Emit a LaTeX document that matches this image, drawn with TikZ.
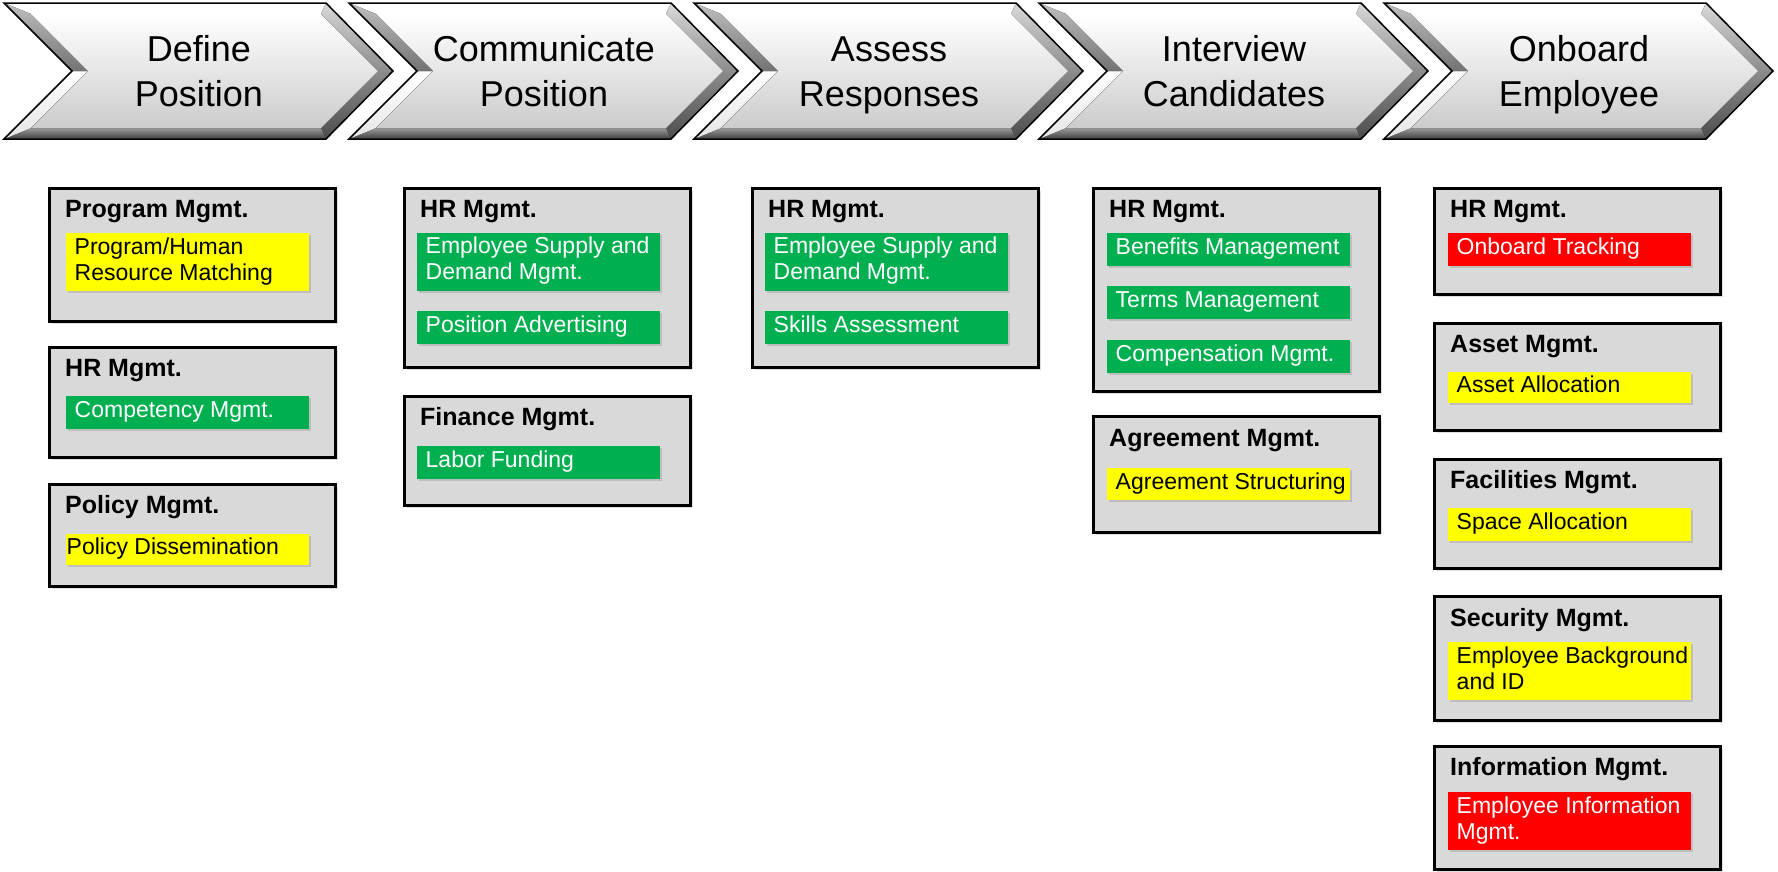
\documentclass[tikz,border=0pt]{standalone}
\usepackage{fontspec}
\setmainfont{Liberation Sans}
\usetikzlibrary{positioning,shadows}

\definecolor{panelgray}{HTML}{D9D9D9}
\definecolor{stgreen}{HTML}{00B050}
\definecolor{styellow}{HTML}{FFFF00}
\definecolor{stred}{HTML}{FF0000}

\begin{document}
\begin{tikzpicture}[
        x=1pt, y=-1pt,
        stage/.style={align=center, inner sep=0pt, font=\fontsize{36}{45}\selectfont,
            execute at begin node=\strut, execute at end node=\strut},
        panel/.style={rectangle, draw=black, line width=2.5pt, fill=panelgray, anchor=north west,
            minimum width=286pt, drop shadow={shadow xshift=3pt, shadow yshift=-3pt, opacity=.25}},
        head/.style={anchor=base west, inner sep=0pt, font=\fontsize{25}{30}\selectfont\bfseries},
        item/.style={rectangle, anchor=north west, text width=226pt, inner xsep=8.5pt, inner ysep=0pt,
            minimum height=33pt, align=flush left, font=\fontsize{23}{26}\selectfont,
            execute at begin node=\strut, execute at end node=\strut,
            drop shadow={shadow xshift=2pt, shadow yshift=-2pt, opacity=.3}},
        greenbox/.style={item, fill=stgreen, text=white},
        yellowbox/.style={item, fill=styellow, text=black},
        redbox/.style={item, fill=stred, text=white},
        twoline/.style={minimum height=58pt}
    ]
    \useasboundingbox (0,0) rectangle (1778,871);

    % Stages (bevelled chevrons)
    \foreach \i/\txt in {0/{Define\\Position}, 1/{Communicate\\Position}, 2/{Assess\\Responses},
                         3/{Interview\\Candidates}, 4/{Onboard\\Employee}} {
        \pgfmathsetmacro{\cx}{4+345*\i}
        \coordinate (o1) at (\cx,3);      \coordinate (o2) at (\cx+322,3);
        \coordinate (o3) at (\cx+389,71); \coordinate (o4) at (\cx+322,139);
        \coordinate (o5) at (\cx,139);    \coordinate (o6) at (\cx+68,71);
        \coordinate (n1) at (\cx+27,14);  \coordinate (n2) at (\cx+317,14);
        \coordinate (n3) at (\cx+374,71); \coordinate (n4) at (\cx+317,128);
        \coordinate (n5) at (\cx+27,128); \coordinate (n6) at (\cx+84,71);
        \fill[white] (o1) -- (o2) -- (n2) -- (n1) -- cycle;
        \fill[top color=black!15, bottom color=black!45] (o2) -- (o3) -- (n3) -- (n2) -- cycle;
        \fill[top color=black!45, bottom color=black!70] (o3) -- (o4) -- (n4) -- (n3) -- cycle;
        \fill[top color=black!40, bottom color=black!75] (o4) -- (o5) -- (n5) -- (n4) -- cycle;
        \fill[top color=white, bottom color=black!10] (o6) -- (o5) -- (n5) -- (n6) -- cycle;
        \fill[top color=black!25, bottom color=black!55] (o1) -- (o6) -- (n6) -- (n1) -- cycle;
        \fill[top color=white, bottom color=black!20] (n1) -- (n2) -- (n3) -- (n4) -- (n5) -- (n6) -- cycle;
        \draw[line width=1.5pt, line join=miter] (o1) -- (o2) -- (o3) -- (o4) -- (o5) -- (o6) -- cycle;
        \node[stage] (stage\i) at (\cx+195,78) {\txt};
    }

    % Define Position
    \node[panel, minimum height=133pt] (dpprog) at (48,187) {};
    \node[head] (dpproghead) at ([shift={(17,30)}]dpprog.north west) {Program Mgmt.};
    \node[yellowbox, twoline] (dpmatch) at ([shift={(18,46)}]dpprog.north west) {Program/Human\\Resource Matching};

    \node[panel, minimum height=110pt] (dphr) at (48,346) {};
    \node[head] (dphrhead) at ([shift={(17,30)}]dphr.north west) {HR Mgmt.};
    \node[greenbox] (dpcomp) at ([shift={(18,50)}]dphr.north west) {Competency Mgmt.};

    \node[panel, minimum height=102pt] (dppol) at (48,483) {};
    \node[head] (dppolhead) at ([shift={(17,30)}]dppol.north west) {Policy Mgmt.};
    \node[yellowbox, text width=242pt, inner xsep=.5pt, minimum height=31pt] (dpdiss)
        at ([shift={(18,51)}]dppol.north west) {Policy Dissemination};

    % Communicate Position
    \node[panel, minimum height=179pt] (cphr) at (403,187) {};
    \node[head] (cphrhead) at ([shift={(17,30)}]cphr.north west) {HR Mgmt.};
    \node[greenbox, twoline] (cpsupply) at ([shift={(14,45.5)}]cphr.north west) {Employee Supply and\\Demand Mgmt.};
    \node[greenbox, below=20pt of cpsupply] (cpadv) {Position Advertising};

    \node[panel, minimum height=109pt] (cpfin) at (403,395) {};
    \node[head] (cpfinhead) at ([shift={(17,30)}]cpfin.north west) {Finance Mgmt.};
    \node[greenbox] (cpfund) at ([shift={(14,51)}]cpfin.north west) {Labor Funding};

    % Assess Responses
    \node[panel, minimum height=179pt] (arhr) at (751,187) {};
    \node[head] (arhrhead) at ([shift={(17,30)}]arhr.north west) {HR Mgmt.};
    \node[greenbox, twoline] (arsupply) at ([shift={(14,45.5)}]arhr.north west) {Employee Supply and\\Demand Mgmt.};
    \node[greenbox, below=20pt of arsupply] (arskill) {Skills Assessment};

    % Interview Candidates
    \node[panel, minimum height=203pt] (ichr) at (1092,187) {};
    \node[head] (ichrhead) at ([shift={(17,30)}]ichr.north west) {HR Mgmt.};
    \node[greenbox] (icben) at ([shift={(15,45.5)}]ichr.north west) {Benefits Management};
    \node[greenbox, below=20pt of icben] (icterms) {Terms Management};
    \node[greenbox, below=20pt of icterms] (iccomp) {Compensation Mgmt.};

    \node[panel, minimum height=116pt] (icagr) at (1092,415) {};
    \node[head] (icagrhead) at ([shift={(17,31)}]icagr.north west) {Agreement Mgmt.};
    \node[yellowbox, minimum height=32pt] (icstruct) at ([shift={(15,53)}]icagr.north west) {\mbox{Agreement Structuring}};

    % Onboard Employee
    \node[panel, minimum height=106pt] (oehr) at (1433,187) {};
    \node[head] (oehrhead) at ([shift={(17,30)}]oehr.north west) {HR Mgmt.};
    \node[redbox] (oetrack) at ([shift={(15,46)}]oehr.north west) {Onboard Tracking};

    \node[panel, minimum height=107pt] (oeasset) at (1433,322) {};
    \node[head] (oeassethead) at ([shift={(17,30)}]oeasset.north west) {Asset Mgmt.};
    \node[yellowbox, minimum height=31pt] (oealloc) at ([shift={(15,50)}]oeasset.north west) {Asset Allocation};

    \node[panel, minimum height=109pt] (oefac) at (1433,458) {};
    \node[head] (oefachead) at ([shift={(17,30)}]oefac.north west) {Facilities Mgmt.};
    \node[yellowbox] (oespace) at ([shift={(15,49.5)}]oefac.north west) {Space Allocation};

    \node[panel, minimum height=124pt] (oesec) at (1433,595) {};
    \node[head] (oesechead) at ([shift={(17,31)}]oesec.north west) {Security Mgmt.};
    \node[yellowbox, twoline] (oebg) at ([shift={(15,47)}]oesec.north west) {\mbox{Employee Background}\\and ID};

    \node[panel, minimum height=123pt] (oeinfo) at (1433,745) {};
    \node[head] (oeinfohead) at ([shift={(17,30)}]oeinfo.north west) {Information Mgmt.};
    \node[redbox, twoline] (oeemp) at ([shift={(15,47)}]oeinfo.north west) {Employee Information\\Mgmt.};

\end{tikzpicture}
\end{document}
